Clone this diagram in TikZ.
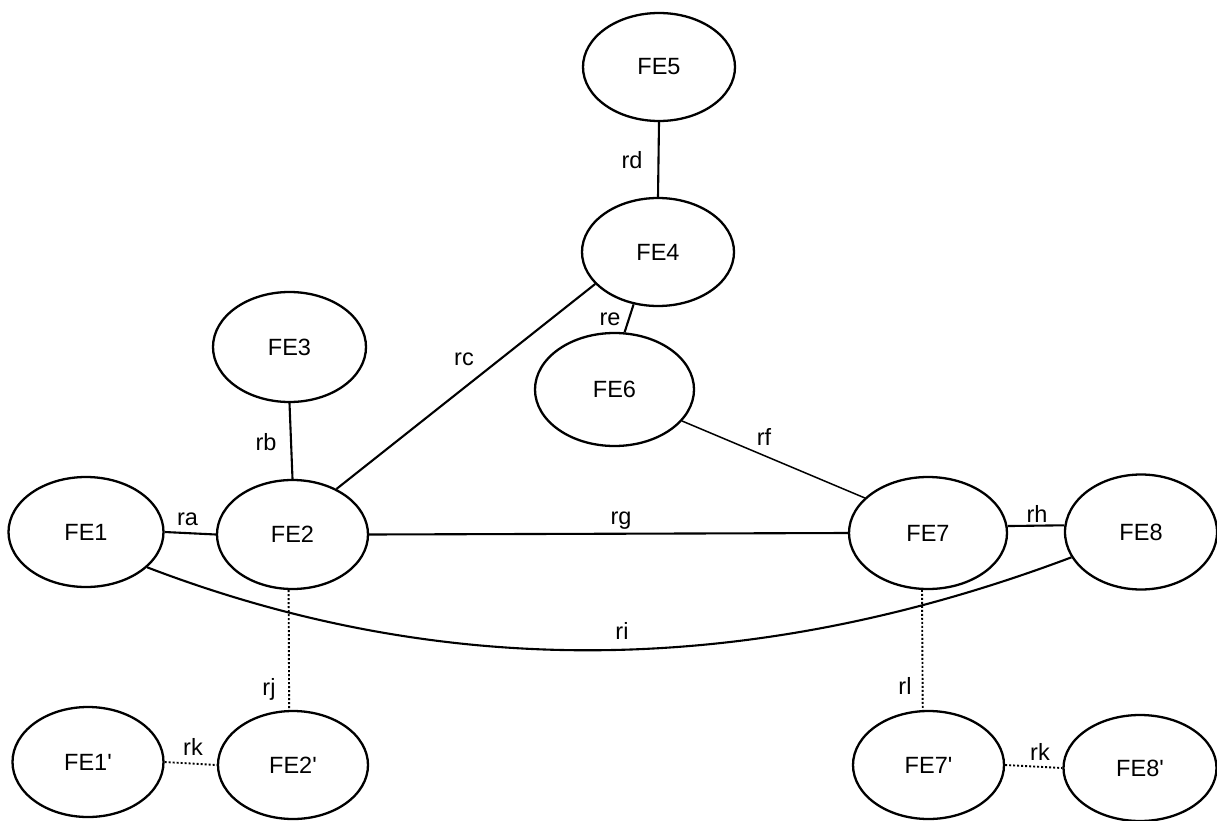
\documentclass[tikz,border=0pt]{standalone}
\usepackage{fontspec}
\setmainfont{Liberation Sans}
\usetikzlibrary{shapes.geometric}
\begin{document}
\begin{tikzpicture}[x=1pt,y=-1pt,
  fe/.style={draw, ellipse, line width=2.3pt, inner sep=0pt,
             font=\fontsize{23.5}{28}\selectfont},
  lbl/.style={anchor=base, inner sep=0pt, font=\fontsize{23.5}{28}\selectfont},
  link/.style={line width=2.1pt},
  thinlink/.style={line width=1.5pt},
  dotlink/.style={line width=1.9pt, dash pattern=on 2pt off 2pt}]
\useasboundingbox (0,0) rectangle (1217,821);

% functional entities
\node[fe, minimum width=152pt, minimum height=108pt] (FE5) at (659,67) {FE5};
\node[fe, minimum width=152pt, minimum height=108pt] (FE4) at (658,252) {FE4};
\node[fe, minimum width=153pt, minimum height=110pt] (FE3) at (289.5,347) {FE3};
\node[fe, minimum width=159pt, minimum height=113pt] (FE6) at (614.5,389.5) {FE6};
\node[fe, minimum width=155pt, minimum height=110pt] (FE1) at (86,532) {FE1};
\node[fe, minimum width=151pt, minimum height=109pt] (FE2) at (292.5,534.5) {FE2};
\node[fe, minimum width=158pt, minimum height=112pt] (FE7) at (928,533) {FE7};
\node[fe, minimum width=152pt, minimum height=115pt] (FE8) at (1141,532) {FE8};
\node[fe, minimum width=151pt, minimum height=110pt] (FE1p) at (88,762) {FE1\textquotesingle};
\node[fe, minimum width=150pt, minimum height=108pt] (FE2p) at (293,765) {FE2\textquotesingle};
\node[fe, minimum width=151pt, minimum height=108pt] (FE7p) at (928.5,765) {FE7\textquotesingle};
\node[fe, minimum width=153pt, minimum height=106pt] (FE8p) at (1140,768) {FE8\textquotesingle};

% reference points
\draw[link] (FE1.east) -- (FE2.west);
\draw[link] (FE3.south) -- (FE2.north);
\draw[link] (FE2.46) -- (FE4.207);
\draw[link] (FE5.south) -- (FE4.north);
\draw[link] (FE4.-115) -- (FE6.80);
\draw[thinlink] (FE6.-25) -- (FE7.151);
\draw[link] (FE2.east) -- (FE7.west);
\draw[link] (FE7.5) -- (FE8.175);
\draw[link] (FE1.-30) .. controls (444,681) and (751,678) .. (FE8.-160);
\draw[dotlink] (FE2.-94) -- (FE2p.94);
\draw[dotlink] (FE1p.east) -- (FE2p.west);
\draw[dotlink] (FE7.-96) -- (FE7p.96);
\draw[dotlink] (FE7p.east) -- (FE8p.west);

% reference point labels
\node[lbl] (ra) at (187.5,525) {ra};
\node[lbl] (rb) at (266,450) {rb};
\node[lbl] (rc) at (464,365) {rc};
\node[lbl] (rd) at (632,169) {rd};
\node[lbl] (re) at (610,325) {re};
\node[lbl] (rf) at (764,445) {rf};
\node[lbl] (rg) at (621,524) {rg};
\node[lbl] (rh) at (1037,522) {rh};
\node[lbl] (ri) at (622,639) {ri};
\node[lbl] (rj) at (269,695) {rj};
\node[lbl] (rk1) at (193,755) {rk};
\node[lbl] (rl) at (905,694) {rl};
\node[lbl] (rk2) at (1040,760) {rk};
\end{tikzpicture}
\end{document}
